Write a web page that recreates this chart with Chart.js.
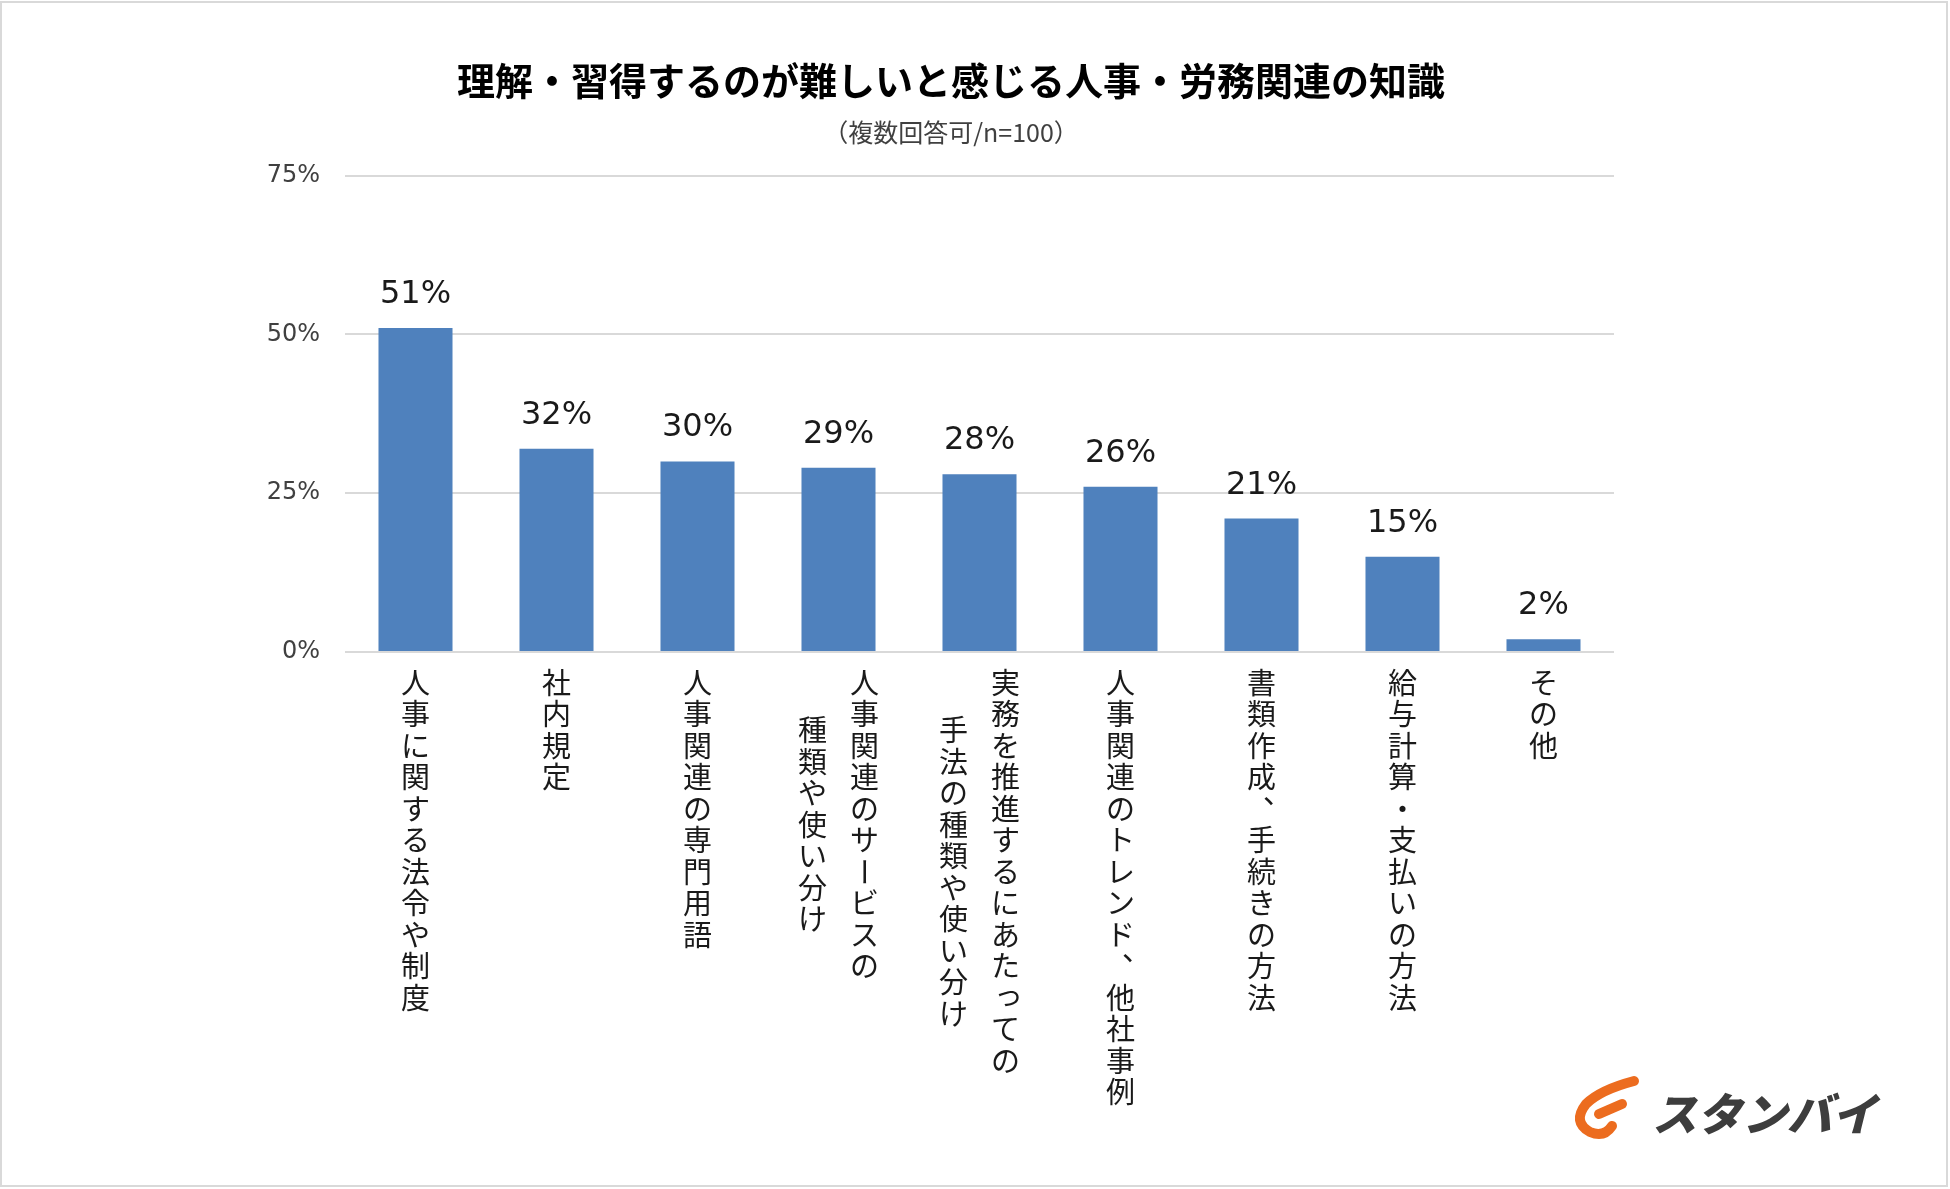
<!DOCTYPE html>
<html>
<head>
<meta charset="utf-8">
<script src="https://cdn.jsdelivr.net/npm/chart.js@4/dist/chart.umd.min.js"></script>
<style>
  html, body { margin: 0; padding: 0; background: #fff; }
  #wrap { width: 1950px; height: 1189px; position: relative; }
</style>
</head>
<body>
<div id="wrap"><canvas id="myChart"></canvas></div>
<script>
// data
var labelLines = [
  ['人事に関する法令や制度'],
  ['社内規定'],
  ['人事関連の専門用語'],
  ['人事関連のサービスの', '種類や使い分け'],
  ['実務を推進するにあたっての', '手法の種類や使い分け'],
  ['人事関連のトレンド、他社事例'],
  ['書類作成、手続きの方法'],
  ['給与計算・支払いの方法'],
  ['その他']
];
var values = [51, 32, 30, 29, 28, 26, 21, 15, 2];
var yTicks = [0, 25, 50, 75];

var titleText = '理解・習得するのが難しいと感じる人事・労務関連の知識';
var subtitleText = '（複数回答可/n=100）';

var CJK = "'Noto Sans CJK JP', 'Noto Sans', sans-serif";
var LATIN = "'DejaVu Sans', Verdana, sans-serif";

// frame + logo
var framePlugin = {
  id: 'frame',
  beforeDraw(chart) {
    var ctx = chart.ctx;
    ctx.save();
    ctx.fillStyle = '#fff';
    ctx.fillRect(0, 0, chart.width, chart.height);
    ctx.strokeStyle = '#d9d9d9';
    ctx.lineWidth = 2;
    ctx.strokeRect(1, 2, chart.width - 4, chart.height - 5);
    ctx.restore();
  },
  afterDraw(chart) {
    var ctx = chart.ctx;
    ctx.save();
    // orange swoosh
    ctx.strokeStyle = '#ec6c1f';
    ctx.lineCap = 'round';
    ctx.lineWidth = 10;
    ctx.beginPath();
    ctx.moveTo(1634, 1081);
    ctx.quadraticCurveTo(1600, 1090, 1586, 1104);
    ctx.quadraticCurveTo(1572, 1122, 1590, 1132);
    ctx.quadraticCurveTo(1604, 1138, 1612, 1126);
    ctx.stroke();
    ctx.beginPath();
    ctx.moveTo(1599, 1114);
    ctx.lineTo(1622, 1104);
    ctx.stroke();
    // logo text
    ctx.fillStyle = '#3d3d3d';
    ctx.font = "900 45px " + CJK;
    ctx.textBaseline = 'alphabetic';
    ctx.translate(1642, 1131);
    ctx.transform(1, 0, -0.25, 1, 0, 0);
    ctx.fillText('スタンバイ', 10, 0);
    ctx.restore();
  }
};

// values above bars
var valueLabels = {
  id: 'valueLabels',
  afterDatasetsDraw(chart) {
    var ctx = chart.ctx;
    var meta = chart.getDatasetMeta(0);
    ctx.save();
    ctx.font = '32px ' + LATIN;
    ctx.fillStyle = '#1a1a1a';
    ctx.textAlign = 'center';
    ctx.textBaseline = 'alphabetic';
    meta.data.forEach(function (bar, i) {
      ctx.fillText(values[i] + '%', bar.x, bar.y - 25);
    });
    ctx.restore();
  }
};

// vertical (tategaki) category labels
var smallKana = 'っゃゅょぁぃぅぇぉッャュョァィゥェォ';
var verticalLabels = {
  id: 'verticalLabels',
  afterDraw(chart) {
    var ctx = chart.ctx;
    var xs = chart.scales.x;
    var size = 29, pitch = 31.5, colGap = 52;
    var top = chart.chartArea.bottom + 15;
    ctx.save();
    ctx.font = size + 'px ' + CJK;
    ctx.fillStyle = '#1a1a1a';
    ctx.textAlign = 'center';
    ctx.textBaseline = 'middle';
    labelLines.forEach(function (lines, i) {
      var cx = xs.getPixelForValue(i);
      var n = lines.length;
      var maxLen = Math.max.apply(null, lines.map(function (l) { return Array.from(l).length; }));
      lines.forEach(function (line, j) {
        var chars = Array.from(line);
        var colX = cx + ((n - 1) / 2 - j) * colGap;
        var off = (maxLen - chars.length) / 2;
        chars.forEach(function (ch, k) {
          var cy = top + (off + k + 0.5) * pitch;
          ctx.save();
          ctx.translate(colX, cy);
          if (ch === 'ー') {
            ctx.rotate(Math.PI / 2);
          } else if (ch === '、' || ch === '。') {
            ctx.translate(size * 0.55, -size * 0.55);
          } else if (smallKana.indexOf(ch) >= 0) {
            ctx.translate(size * 0.1, -size * 0.1);
          }
          ctx.fillText(ch, 0, 0);
          ctx.restore();
        });
      });
    });
    ctx.restore();
  }
};

new Chart('myChart', {
  type: 'bar',
  data: {
    labels: labelLines,
    datasets: [{
      data: values,
      backgroundColor: '#4f81bd',
      barPercentage: 0.525,
      categoryPercentage: 1
    }]
  },
  options: {
    responsive: true,
    maintainAspectRatio: false,
    animation: false,
    devicePixelRatio: 1,
    layout: { padding: { top: 0, left: 266, right: 314, bottom: 537 } },
    plugins: {
      legend: { display: false },
      tooltip: { enabled: false },
      title: {
        display: true,
        text: titleText,
        color: '#000',
        font: { family: CJK, size: 38, weight: 'bold' },
        padding: { top: 58, bottom: 10 }
      },
      subtitle: {
        display: true,
        text: subtitleText,
        color: '#404040',
        font: { family: CJK, size: 25 },
        padding: { top: 4, bottom: 28 }
      }
    },
    scales: {
      x: { display: false },
      y: {
        min: 0,
        max: 75,
        afterBuildTicks(scale) {
          scale.ticks = yTicks.map(function (v) { return { value: v }; });
        },
        afterFit(scale) { scale.width = 79; },
        ticks: {
          padding: 25,
          color: '#404040',
          font: { family: LATIN, size: 24 },
          callback: function (v) { return v + '%'; }
        },
        grid: { color: '#d9d9d9', lineWidth: 2, drawTicks: false },
        border: { display: false }
      },
      // empty spacer on the right so the title centres like the original
      spacer: {
        position: 'right',
        display: true,
        ticks: { display: false },
        grid: { display: false },
        border: { display: false },
        afterFit(scale) { scale.width = 22; }
      }
    }
  },
  plugins: [framePlugin, valueLabels, verticalLabels]
});
</script>
</body>
</html>
